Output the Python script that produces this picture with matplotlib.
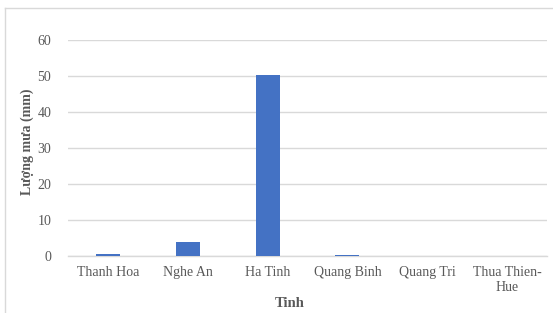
import matplotlib
matplotlib.use('Agg')
import matplotlib.pyplot as plt
from matplotlib.lines import Line2D

# Data
provinces = ['Thanh Hoa', 'Nghe An', 'Ha Tinh', 'Quang Binh', 'Quang Tri', 'Thua Thien-\nHue']
rainfall = [0.7, 3.9, 50.3, 0.4, 0.0, 0.0]
yticks = [0, 10, 20, 30, 40, 50, 60]

BAR = '#4472C4'
GRID = '#D9D9D9'
TEXT = '#595959'

plt.rcParams['font.family'] = ['Liberation Serif', 'DejaVu Serif']

fig = plt.figure(figsize=(5.53, 3.13), dpi=100)
ax = fig.add_axes([0.123, 0.182, 0.866, 0.69])

ax.bar(range(len(provinces)), rainfall, width=0.3, color=BAR, zorder=3)

ax.set_ylim(0, 60)
ax.set_xlim(-0.5, len(provinces) - 0.5)
ax.set_yticks(yticks)
ax.set_xticks(range(len(provinces)))
ax.set_xticklabels(provinces, fontsize=10, color=TEXT, linespacing=1.25)
ax.tick_params(axis='y', labelsize=10, labelcolor=TEXT, length=0, pad=12)
ax.tick_params(axis='x', length=0, pad=7)

ax.yaxis.grid(True, color=GRID, linewidth=1)
ax.set_axisbelow(True)
for s in ['top', 'right', 'left']:
    ax.spines[s].set_visible(False)
ax.spines['bottom'].set_color(GRID)
ax.spines['bottom'].set_linewidth(1)

ax.set_ylabel('Lượng mưa (mm)', fontsize=10, fontweight='bold', color=TEXT)
ax.yaxis.set_label_coords(-0.071, 0.53)
ax.set_xlabel('Tinh', fontsize=10.5, fontweight='bold', color=TEXT)
ax.xaxis.set_label_coords(0.463, -0.19)

# chart border (top and left edges only visible)
fig.lines.append(Line2D([5 / 553, 1], [1 - 8 / 313, 1 - 8 / 313], transform=fig.transFigure,
                        color='#D9D9D9', linewidth=1))
fig.lines.append(Line2D([5 / 553, 5 / 553], [0, 1 - 8 / 313], transform=fig.transFigure,
                        color='#D9D9D9', linewidth=1))

fig.savefig('out.png', dpi=100)
